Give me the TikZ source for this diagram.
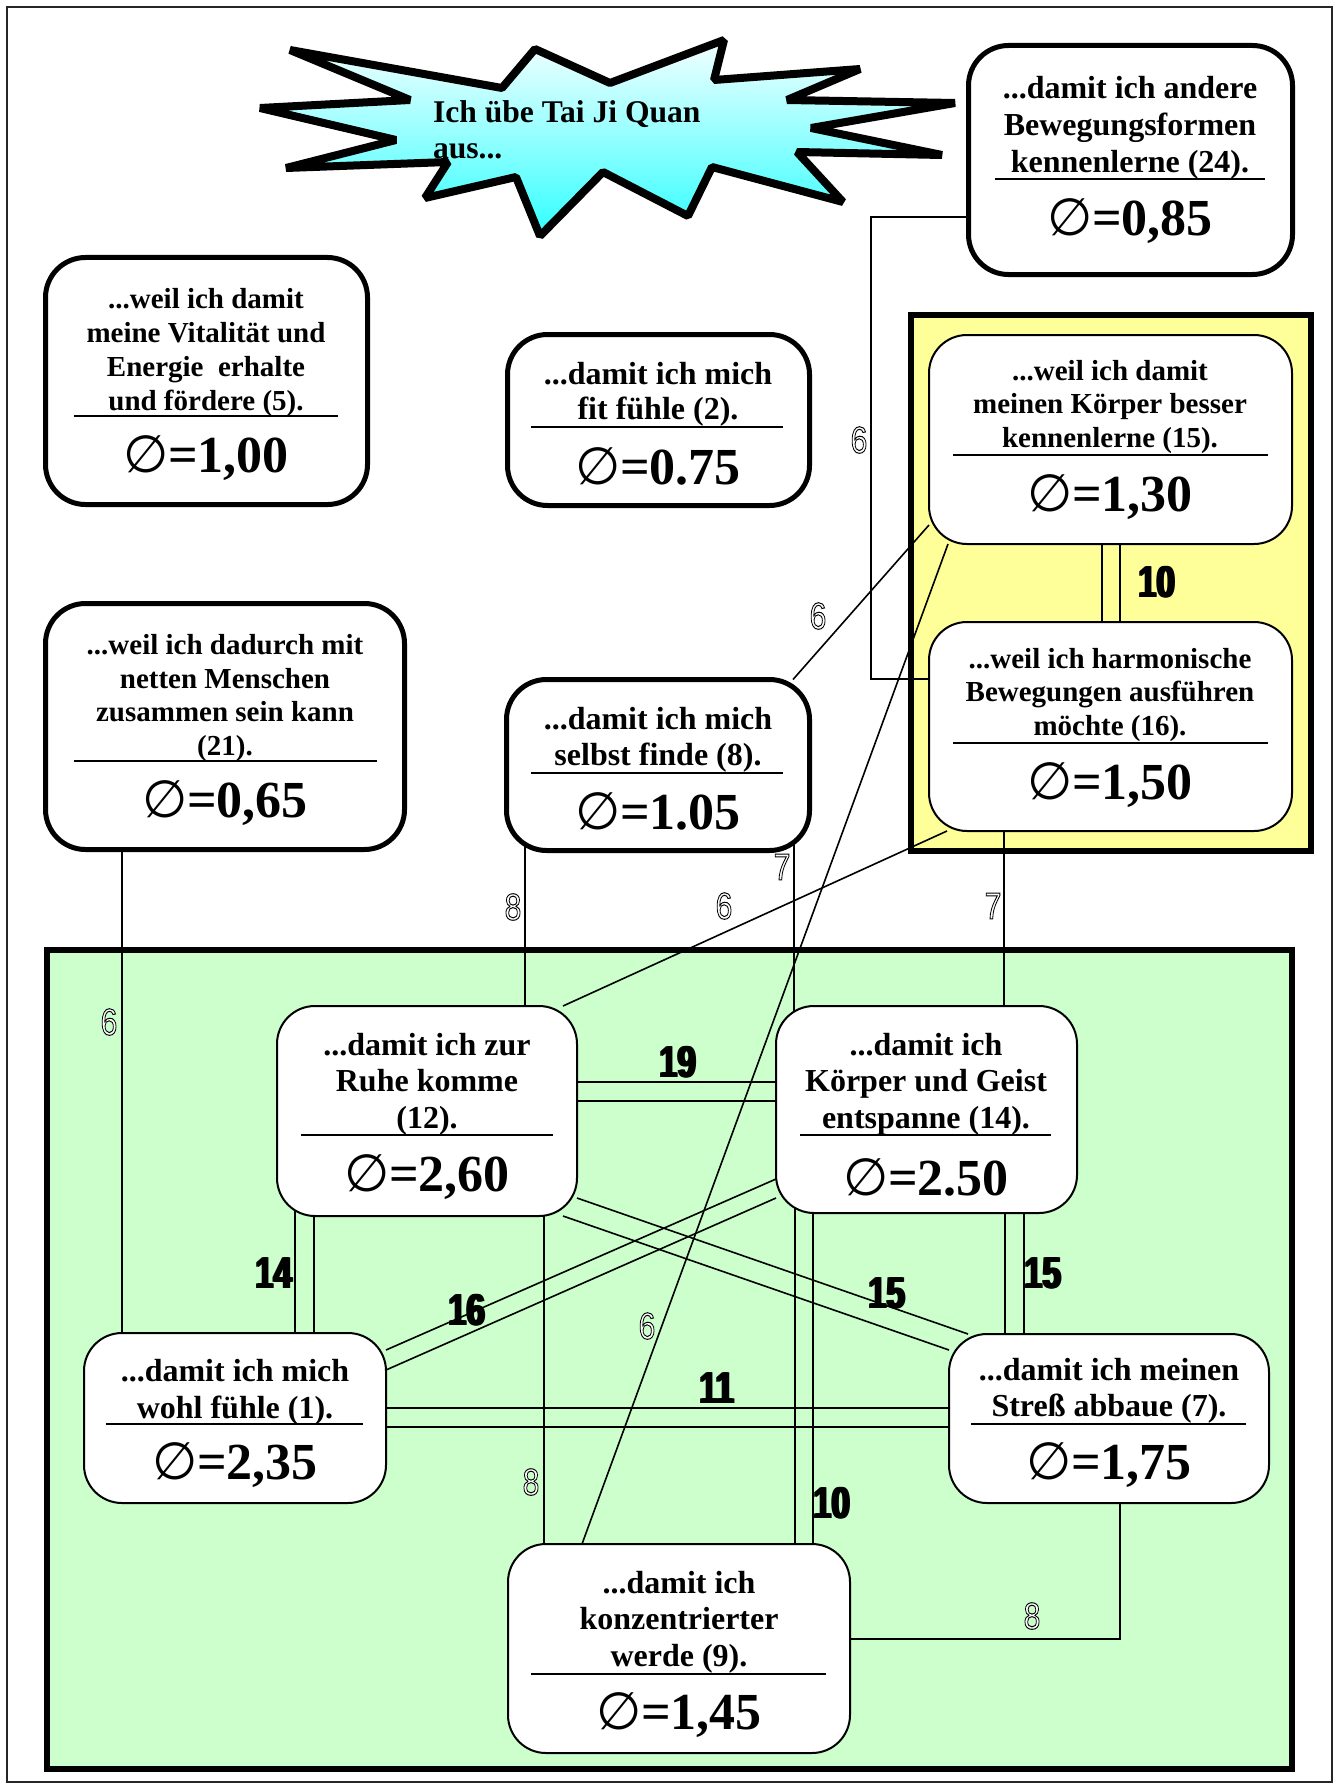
\documentclass[tikz,border=0pt]{standalone}
\usepackage{fontspec}
\usepackage{graphicx}
\setmainfont{Liberation Serif}
\newfontfamily\dvs{DejaVu Sans}
\newfontfamily\numf{Liberation Sans}
\usetikzlibrary{calc}
\definecolor{yel}{HTML}{FFFF99}
\definecolor{grn}{HTML}{CCFFCC}
\definecolor{startop}{HTML}{F4FFFF}
\definecolor{starbot}{HTML}{30FFFF}
\newcommand\nsym{{\dvs\mdseries ∅}}
\newcommand\olt[1]{\scalebox{0.8}[1]{\special{pdf:literal 2 Tr 0.5 w 0 G}#1\special{pdf:literal 0 Tr}}}
\newcommand\blt[1]{\scalebox{0.74}[1]{\rlap{#1}\hspace{0.6pt}\rlap{#1}\hspace{0.6pt}\rlap{#1}\hspace{0.6pt}#1}}
\pgfdeclarelayer{back}
\pgfdeclarelayer{lines}
\pgfsetlayers{back,lines,main}
\tikzset{
  every node/.style={inner sep=0pt, outer sep=0pt},
  thickbox/.style={draw, line width=2.5pt, rounded corners=20pt, fill=white},
  thinbox/.style={draw, line width=1pt, rounded corners=19pt, fill=white},
  tsmall/.style={font=\fontsize{14.5}{17}\selectfont\bfseries, align=center},
  tlarge/.style={font=\fontsize{16}{18}\selectfont\bfseries, align=center},
  numtext/.style={font=\fontsize{26}{30}\selectfont\bfseries},
  sepline/.style={line width=0.9pt},
  conn/.style={line width=0.8pt},
  olab/.style={font=\fontsize{18.8}{20}\selectfont\numf, text=white},
  blab/.style={font=\fontsize{22.3}{24}\selectfont\numf\bfseries, text=black},
  grp/.style={draw, line width=3pt},
}
\begin{document}
\begin{tikzpicture}[x=0.5pt,y=-0.5pt]
\useasboundingbox (0,0) rectangle (1340,1787);

\begin{pgfonlayer}{back}
  \draw[line width=1pt, black!85] (7,7) rectangle (1332,1782);
  \node[grp, fill=yel, minimum width=200pt, minimum height=268pt] (grpY) at (1111,583) {};
  \node[grp, fill=grn, minimum width=622.5pt, minimum height=409.5pt] (grpG) at (669.5,1359.5) {};
\end{pgfonlayer}

% ---------- boxes ----------
\node[thickbox, minimum width=162pt, minimum height=114.5pt] (b24) at (1130.5,160) {};
\node[tlarge, font=\fontsize{16}{18.5}\selectfont\bfseries] (t24) at (1130,128) {...damit ich andere\\Bewegungsformen\\kennenlerne (24).};
\draw[sepline] (995,179) -- (1265,179);
\node[numtext] (n24) at (1130,221) {\nsym=0,85};

\node[thickbox, minimum width=161pt, minimum height=123.5pt] (b5) at (206.5,381) {};
\node[tsmall] (t5) at (206,353) {...weil ich damit\\meine Vitalität und\\Energie~ erhalte\\und fördere (5).};
\draw[sepline] (74,416) -- (338,416);
\node[numtext] (n5) at (206,458) {\nsym=1,00};

\node[thickbox, minimum width=179.5pt, minimum height=123pt] (b21) at (225,726.5) {};
\node[tsmall, font=\fontsize{14.5}{16.75}\selectfont\bfseries] (t21) at (225,698) {...weil ich dadurch mit\\netten Menschen\\zusammen sein kann\\(21).};
\draw[sepline] (74,761) -- (377,761);
\node[numtext] (n21) at (225,803) {\nsym=0,65};

\node[thickbox, minimum width=151pt, minimum height=85.5pt] (b2) at (658.5,420) {};
\node[tlarge, font=\fontsize{16}{17.5}\selectfont\bfseries] (t2) at (658,394) {...damit ich mich\\fit fühle (2).};
\draw[sepline] (531,427) -- (783,427);
\node[numtext] (n2) at (658,466) {\nsym=0.75};

\node[thickbox, minimum width=151.5pt, minimum height=85.5pt] (b8) at (658,765) {};
\node[tlarge, font=\fontsize{16}{18}\selectfont\bfseries] (t8) at (658,739.5) {...damit ich mich\\selbst finde (8).};
\draw[sepline] (531,773) -- (783,773);
\node[numtext] (n8) at (658,811) {\nsym=1.05};

\node[thinbox, minimum width=181.5pt, minimum height=104.5pt] (b15) at (1110.5,439.5) {};
\node[tsmall, font=\fontsize{14.5}{16.8}\selectfont\bfseries] (t15) at (1110,407) {...weil ich damit\\meinen Körper besser\\kennenlerne (15).};
\draw[sepline] (953,455) -- (1268,455);
\node[numtext] (n15) at (1110,497) {\nsym=1,30};

\node[thinbox, minimum width=181.5pt, minimum height=104.5pt] (b16) at (1110.5,726.5) {};
\node[tsmall, font=\fontsize{14.5}{16.8}\selectfont\bfseries] (t16) at (1110,695) {...weil ich harmonische\\Bewegungen ausführen\\möchte (16).};
\draw[sepline] (953,743) -- (1268,743);
\node[numtext] (n16) at (1110,785) {\nsym=1,50};

\node[thinbox, minimum width=150pt, minimum height=105pt] (b12) at (427,1111) {};
\node[tlarge, font=\fontsize{16}{18.3}\selectfont\bfseries] (t12) at (427,1084) {...damit ich zur\\Ruhe komme\\(12).};
\draw[sepline] (301,1135) -- (553,1135);
\node[numtext] (n12) at (427,1177) {\nsym=2,60};

\node[thinbox, minimum width=150.5pt, minimum height=103.5pt] (b14) at (926.5,1109.5) {};
\node[tlarge, font=\fontsize{16}{18.3}\selectfont\bfseries] (t14) at (926,1084) {...damit ich\\Körper und Geist\\entspanne (14).};
\draw[sepline] (800,1135) -- (1051,1135);
\node[numtext] (n14) at (926,1177) {\nsym=2.50};

\node[thinbox, minimum width=151pt, minimum height=85pt] (b1) at (235,1418) {};
\node[tlarge, font=\fontsize{16}{18.5}\selectfont\bfseries] (t1) at (235,1392) {...damit ich mich\\wohl fühle (1).};
\draw[sepline] (106,1424) -- (363,1424);
\node[numtext] (n1) at (235,1465) {\nsym=2,35};

\node[thinbox, minimum width=160pt, minimum height=84.5pt] (b7) at (1109,1418.5) {};
\node[tlarge, font=\fontsize{16}{18}\selectfont\bfseries] (t7) at (1109,1391) {...damit ich meinen\\Streß abbaue (7).};
\draw[sepline] (971,1424) -- (1246,1424);
\node[numtext] (n7) at (1109,1465) {\nsym=1,75};

\node[thinbox, minimum width=171pt, minimum height=104.5pt] (b9) at (679,1648.5) {};
\node[tlarge, font=\fontsize{16}{18.3}\selectfont\bfseries] (t9) at (679,1622) {...damit ich\\konzentrierter\\werde (9).};
\draw[sepline] (531,1674) -- (826,1674);
\node[numtext] (n9) at (679,1715) {\nsym=1,45};

% ---------- connectors ----------
\begin{pgfonlayer}{lines}
  \draw[conn] (b24.center |- 0,217) -| (871,679) -- (b16.center |- 0,679);
  \draw[conn] (b8.north -| 793,0) -- (b15.west |- 0,525);
  \draw[conn] (b16.south -| 947,0) -- (b12.north -| 563,0);
  \draw[conn] (b15.south -| 948,0) -- (b9.north -| 582,0);
  \draw[conn] (b8.center -| 525,0) -- (b12.center -| 525,0);
  \draw[conn] (b8.center -| 794,0) -- (b14.center -| 794,0);
  \draw[conn] (b16.center -| 1004,0) -- (b14.center -| 1004,0);
  \draw[conn] (b21.center -| 122,0) -- (b1.center -| 122,0);
  \draw[conn] (b15.center -| 1102,0) -- (b16.center -| 1102,0);
  \draw[conn] (b15.center -| 1120,0) -- (b16.center -| 1120,0);
  \draw[conn] (b12.center |- 0,1082) -- (b14.center |- 0,1082);
  \draw[conn] (b12.center |- 0,1101) -- (b14.center |- 0,1101);
  \draw[conn] (b12.center -| 295,0) -- (b1.center -| 295,0);
  \draw[conn] (b12.center -| 314,0) -- (b1.center -| 314,0);
  \draw[conn] (b14.west |- 0,1179) -- (b1.east |- 0,1350);
  \draw[conn] (b14.west |- 0,1198) -- (b1.east |- 0,1370);
  \draw[conn] (b12.east |- 0,1198) -- (b7.north -| 968,0);
  \draw[conn] (b12.south -| 563,0) -- (b7.west |- 0,1350);
  \draw[conn] (b14.center -| 1005,0) -- (b7.center -| 1005,0);
  \draw[conn] (b14.center -| 1024,0) -- (b7.center -| 1024,0);
  \draw[conn] (b14.center -| 795,0) -- (b9.center -| 795,0);
  \draw[conn] (b14.center -| 813,0) -- (b9.center -| 813,0);
  \draw[conn] (b1.center |- 0,1408) -- (b7.center |- 0,1408);
  \draw[conn] (b1.center |- 0,1427) -- (b7.center |- 0,1427);
  \draw[conn] (b12.center -| 544,0) -- (b9.center -| 544,0);
  \draw[conn] (b7.center -| 1120,0) |- (b9.center |- 0,1639);
\end{pgfonlayer}

% ---------- labels ----------
\node[olab] (l24) at (859,440) {\olt{6}};
\node[olab] (l8a) at (818,616) {\olt{6}};
\node[olab] (l8b) at (782,867) {\olt{7}};
\node[olab] (l8c) at (513,907) {\olt{8}};
\node[olab] (l16a) at (724,906) {\olt{6}};
\node[olab] (l16b) at (993,906) {\olt{7}};
\node[olab] (l21) at (109,1022) {\olt{6}};
\node[olab] (l15) at (647,1326) {\olt{6}};
\node[olab] (l12) at (531,1482) {\olt{8}};
\node[olab] (l7) at (1032,1616) {\olt{8}};

\node[blab] (m1) at (1157,582) {\blt{10}};
\node[blab] (m2) at (678,1062) {\blt{19}};
\node[blab] (m3) at (274,1273) {\blt{14}};
\node[blab] (m4) at (467,1310) {\blt{16}};
\node[blab] (m5) at (887,1293) {\blt{15}};
\node[blab] (m6) at (1043,1273) {\blt{15}};
\node[blab] (m7) at (717,1388) {\blt{11}};
\node[blab] (m8) at (832,1503) {\blt{10}};

% ---------- star ----------
\path[draw, line width=4pt, line join=bevel, top color=startop, bottom color=starbot]
  (290,50) -- (502,88) -- (535,49) -- (610,83) -- (724,40) -- (714,80) -- (860,69)
  -- (787,100) -- (955,103) -- (811,128) -- (942,155) -- (797,152) -- (843,202)
  -- (712,167) -- (688,216) -- (603,172) -- (540,236) -- (516,177) -- (425,198)
  -- (448,162) -- (286,168) -- (396,140) -- (260,108) -- (410,100) -- cycle;
\node[font=\fontsize{15.8}{18}\selectfont\bfseries, align=left, anchor=north west] (star) at (433,101) {Ich übe Tai Ji Quan\\aus...};
\end{tikzpicture}
\end{document}
